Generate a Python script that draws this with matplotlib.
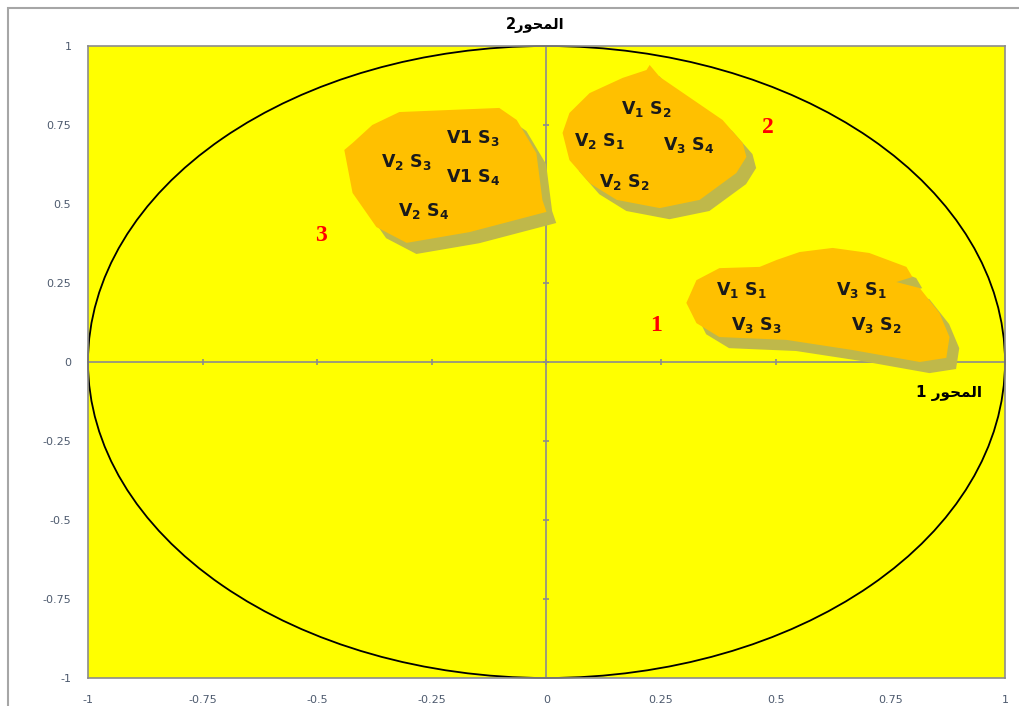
import matplotlib
matplotlib.use('Agg')
import matplotlib.pyplot as plt
import matplotlib.patheffects as pe
from matplotlib.patches import Circle, Polygon, Rectangle

# tick values on both axes
ticks = [-1, -0.75, -0.5, -0.25, 0, 0.25, 0.5, 0.75, 1]
tick_labels = ['-1', '-0.75', '-0.5', '-0.25', '0', '0.25', '0.5', '0.75', '1']

# outlines of the three groups (axis 1, axis 2)
group1_x = [0.305, 0.327, 0.377, 0.465, 0.502, 0.552, 0.624, 0.704, 0.785, 0.798,
            0.763, 0.814, 0.857, 0.879, 0.872, 0.814, 0.667, 0.523, 0.377, 0.327]
group1_y = [0.187, 0.259, 0.297, 0.301, 0.323, 0.348, 0.361, 0.345, 0.301, 0.269,
            0.253, 0.234, 0.155, 0.079, 0.013, 0.0, 0.038, 0.070, 0.079, 0.123]
group2_x = [0.225, 0.247, 0.384, 0.428, 0.436, 0.414, 0.334, 0.247, 0.153, 0.094,
            0.050, 0.035, 0.050, 0.094, 0.166, 0.218]
group2_y = [0.940, 0.902, 0.766, 0.693, 0.649, 0.598, 0.513, 0.487, 0.513, 0.566,
            0.639, 0.725, 0.788, 0.851, 0.899, 0.924]
group3_x = [-0.423, -0.380, -0.321, -0.103, -0.065, -0.022, -0.009, 0.0, -0.168,
            -0.305, -0.371, -0.423, -0.441]
group3_y = [0.693, 0.750, 0.791, 0.804, 0.766, 0.661, 0.513, 0.475, 0.411,
            0.377, 0.427, 0.535, 0.671]

# variable labels inside the groups
point_labels = [r'V$_\mathbf{1}$ S$_\mathbf{1}$', r'V$_\mathbf{3}$ S$_\mathbf{1}$',
                r'V$_\mathbf{3}$ S$_\mathbf{3}$', r'V$_\mathbf{3}$ S$_\mathbf{2}$',
                r'V$_\mathbf{1}$ S$_\mathbf{2}$', r'V$_\mathbf{2}$ S$_\mathbf{1}$',
                r'V$_\mathbf{3}$ S$_\mathbf{4}$', r'V$_\mathbf{2}$ S$_\mathbf{2}$',
                r'V1 S$_\mathbf{3}$', r'V$_\mathbf{2}$ S$_\mathbf{3}$',
                r'V1 S$_\mathbf{4}$', r'V$_\mathbf{2}$ S$_\mathbf{4}$']
point_x = [0.425, 0.687, 0.458, 0.720, 0.218, 0.116, 0.310, 0.170,
           -0.161, -0.305, -0.161, -0.268]
point_y = [0.228, 0.228, 0.117, 0.117, 0.801, 0.699, 0.687, 0.570,
           0.709, 0.633, 0.585, 0.478]

group_names = ['1', '2', '3']
group_name_x = [0.240, 0.482, -0.491]
group_name_y = [0.114, 0.741, 0.399]

# Arabic axis titles, shaped by hand (presentation forms, visual order)
axis_word = '\uFEAD\uFEEE\uFEA4\uFEE4\uFEDF\uFE8D'
x_title = '1 ' + axis_word
y_title = '2' + axis_word

fig = plt.figure(figsize=(10.2, 7.06), dpi=100)
fig.patches.append(Rectangle((8 / 1020, -0.05), 1.1, 1 - 8 / 706 + 0.05,
                             transform=fig.transFigure, fill=False,
                             edgecolor='#a6a6a6', linewidth=1.5))
ax = fig.add_axes([88 / 1020, 28 / 706, 917 / 1020, 632 / 706])
ax.set_facecolor('#ffff00')
ax.set_xlim(-1, 1)
ax.set_ylim(-1, 1)
for s in ax.spines.values():
    s.set_color('#8c8c8c')
    s.set_linewidth(1.2)

ax.set_xticks(ticks)
ax.set_yticks(ticks)
ax.set_xticklabels(tick_labels)
ax.set_yticklabels(tick_labels)
ax.tick_params(length=0, labelsize=8, labelcolor='#4d5a6e', pad=12)

# axis lines through the origin with small cross ticks
ax.axhline(0, color='#8c8c8c', lw=1.2, zorder=1)
ax.axvline(0, color='#8c8c8c', lw=1.2, zorder=1)
ax.plot(ticks, [0] * len(ticks), ls='none', marker='|', ms=5, mew=1.2,
        color='#8c8c8c', zorder=1)
ax.plot([0] * len(ticks), ticks, ls='none', marker='_', ms=5, mew=1.2,
        color='#8c8c8c', zorder=1)

# correlation circle
ax.add_patch(Circle((0, 0), 1, fill=False, edgecolor='black', lw=1.3,
                    zorder=2, clip_on=False))

shadow = [pe.SimplePatchShadow(offset=(7, -8), shadow_rgbFace='#bfb84a', alpha=1),
          pe.Normal()]
for gx, gy in [(group1_x, group1_y), (group2_x, group2_y), (group3_x, group3_y)]:
    poly = Polygon(list(zip(gx, gy)), closed=True, facecolor='#ffc000',
                   edgecolor='none', zorder=3)
    poly.set_path_effects(shadow)
    ax.add_patch(poly)

for lab, px, py in zip(point_labels, point_x, point_y):
    ax.text(px, py, lab, ha='center', va='center', fontsize=12.5,
            fontweight='bold', color='#1a1a1a', zorder=4)

for name, gx, gy in zip(group_names, group_name_x, group_name_y):
    ax.text(gx, gy, name, ha='center', va='center', fontsize=17,
            fontweight='bold', family='Liberation Serif', color='red', zorder=4)

ax.text(0.877, -0.098, x_title, ha='center', va='center', fontsize=11,
        fontweight='bold', family='DejaVu Sans', zorder=4)
fig.text(535 / 1020, 1 - 25 / 706, y_title, ha='center', va='center',
         fontsize=10.5, fontweight='bold', family='DejaVu Sans')

fig.savefig('out.png', dpi=100)
